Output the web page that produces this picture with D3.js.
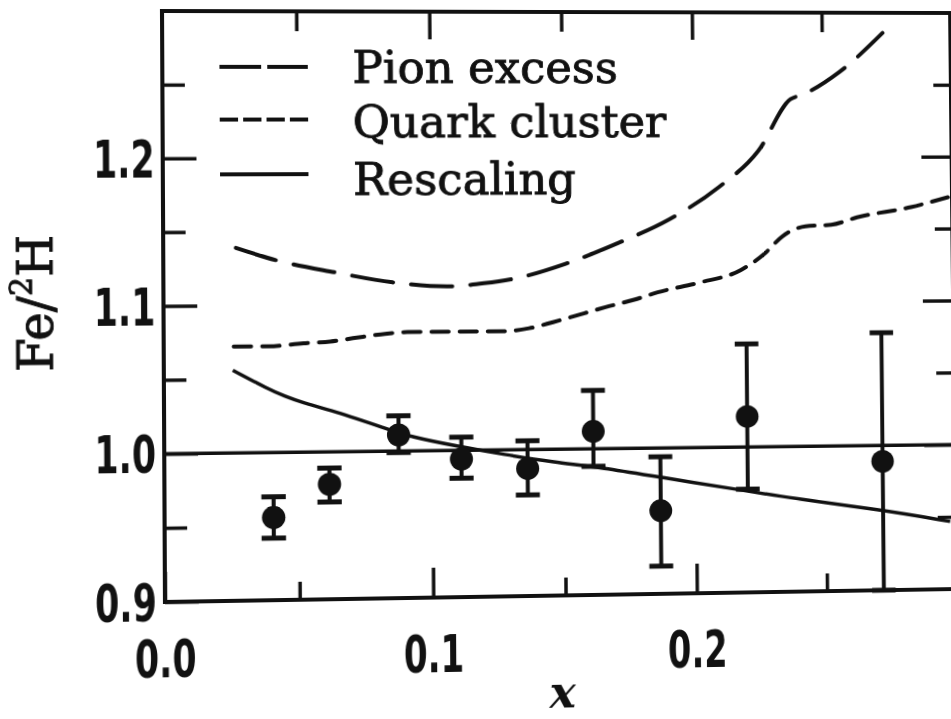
<!DOCTYPE html>
<html>
<head>
<meta charset="utf-8">
<script src="https://cdn.jsdelivr.net/npm/d3@7"></script>
<style>
  html, body { margin: 0; padding: 0; background: #fff; width: 951px; height: 719px; overflow: hidden; }
  #fig { position: absolute; left: 0; top: 0; transform-origin: 0 0; }
</style>
</head>
<body>
<svg id="fig" width="990" height="740"></svg>
<script>
// ---- axis ticks ----
const xMajorTicks = [0.0, 0.1, 0.2];
const xMajorLabels = ["0.0", "0.1", "0.2"];
const xMinorTicks = [0.05, 0.15, 0.25];
const yMajorTicks = [0.9, 1.0, 1.1, 1.2];
const yMajorLabels = ["0.9", "1.0", "1.1", "1.2"];
const yMinorTicks = [0.95, 1.05, 1.15, 1.25];

// ---- measured ratio Fe/2H with error bars ----
const dataX    = [0.0405, 0.0614, 0.0874, 0.111, 0.136, 0.161, 0.1865, 0.2199, 0.272];
const dataY    = [0.956, 0.978, 1.011, 0.994, 0.987, 1.012, 0.957, 1.021, 0.989];
const dataLow  = [0.942, 0.966, 0.999, 0.981, 0.969, 0.988, 0.919, 0.971, 0.900];
const dataHigh = [0.970, 0.989, 1.024, 1.009, 1.006, 1.040, 0.994, 1.071, 1.078];

// ---- model curves ----
const pionX = [0.027, 0.043, 0.064, 0.0855, 0.106, 0.120, 0.134, 0.151, 0.171, 0.1905, 0.2096, 0.225, 0.2377, 0.2422, 0.2568, 0.2736];
const pionY = [1.139, 1.130, 1.122, 1.115, 1.112, 1.114, 1.118, 1.127, 1.141, 1.157, 1.179, 1.204, 1.240, 1.243, 1.259, 1.286];

const quarkX = [0.026, 0.039, 0.052, 0.062, 0.072, 0.081, 0.091, 0.103, 0.115, 0.127, 0.137, 0.146, 0.158, 0.166, 0.177, 0.186, 0.202, 0.218, 0.227, 0.234, 0.243, 0.253, 0.263, 0.284, 0.299];
const quarkY = [1.072, 1.072, 1.074, 1.075, 1.0775, 1.0796, 1.081, 1.081, 1.081, 1.081, 1.083, 1.087, 1.093, 1.097, 1.102, 1.107, 1.1135, 1.122, 1.133, 1.145, 1.152, 1.153, 1.158, 1.165, 1.172];

const rescX = [0.0256, 0.0388, 0.045, 0.0514, 0.0628, 0.0828, 0.0918, 0.1093, 0.1271, 0.1461, 0.1642, 0.1877, 0.2167, 0.2357, 0.271, 0.298];
const rescY = [1.056, 1.043, 1.038, 1.0336, 1.028, 1.0154, 1.0096, 1.0029, 0.9968, 0.9911, 0.9871, 0.9795, 0.9707, 0.9646, 0.9556, 0.9468];

const referenceLevel = 1.0;
const legendLabels = ["Pion excess", "Quark cluster", "Rescaling"];

// ---- layout ----
const ink = "#111";
const plotLeft = 165, plotRight = 956, plotTop = 11, plotBottom = 602;
const x = d3.scaleLinear().domain([0, 0.3]).range([plotLeft, plotRight]);
const y = d3.scaleLinear().domain([0.9, 1.3]).range([plotBottom, plotTop]);

const svg = d3.select("#fig");
const g = svg.append("g");

const tickFont = "'Liberation Sans Narrow','Arial Narrow','DejaVu Sans Condensed','Liberation Sans',sans-serif";
const serif = "'DejaVu Serif','Liberation Serif',serif";

function styleAxis(sel, width) {
  sel.select(".domain").remove();
  sel.selectAll(".tick line").attr("stroke", ink).attr("stroke-width", width);
}

// bottom axis: inward ticks with labels
const bx = g.append("g").attr("transform", `translate(0,${plotBottom})`)
  .call(d3.axisBottom(x).tickValues(xMajorTicks).tickSizeInner(-30).tickSizeOuter(0)
    .tickPadding(38).tickFormat((d, i) => xMajorLabels[i]));
styleAxis(bx, 3.5);
bx.selectAll(".tick text")
  .attr("fill", ink).attr("font-family", tickFont).attr("font-weight", "bold")
  .attr("font-size", 52).attr("textLength", 60).attr("lengthAdjust", "spacingAndGlyphs");
const bxm = g.append("g").attr("transform", `translate(0,${plotBottom})`)
  .call(d3.axisBottom(x).tickValues(xMinorTicks).tickSizeInner(-18).tickSizeOuter(0).tickFormat(""));
styleAxis(bxm, 3.5);

// top axis: inward ticks, no labels
const tx = g.append("g").attr("transform", `translate(0,${plotTop})`)
  .call(d3.axisTop(x).tickValues([0.1, 0.2]).tickSizeInner(-28).tickSizeOuter(0).tickFormat(""));
styleAxis(tx, 3.5);
const txm = g.append("g").attr("transform", `translate(0,${plotTop})`)
  .call(d3.axisTop(x).tickValues(xMinorTicks).tickSizeInner(-20).tickSizeOuter(0).tickFormat(""));
styleAxis(txm, 3.5);

// left axis: inward ticks with labels
const ly = g.append("g").attr("transform", `translate(${plotLeft},0)`)
  .call(d3.axisLeft(y).tickValues(yMajorTicks).tickSizeInner(-33).tickSizeOuter(0)
    .tickPadding(8).tickFormat((d, i) => yMajorLabels[i]));
styleAxis(ly, 3.5);
ly.selectAll(".tick text")
  .attr("fill", ink).attr("font-family", tickFont).attr("font-weight", "bold")
  .attr("font-size", 52).attr("dy", "0.36em")
  .attr("textLength", 60).attr("lengthAdjust", "spacingAndGlyphs");
const lym = g.append("g").attr("transform", `translate(${plotLeft},0)`)
  .call(d3.axisLeft(y).tickValues(yMinorTicks).tickSizeInner(-22).tickSizeOuter(0).tickFormat(""));
styleAxis(lym, 3.5);

// right axis: inward ticks only
const ry = g.append("g").attr("transform", `translate(${plotRight},0)`)
  .call(d3.axisRight(y).tickValues([1.0, 1.1, 1.2]).tickSizeInner(-31).tickSizeOuter(0).tickFormat(""));
styleAxis(ry, 3.5);
const rym = g.append("g").attr("transform", `translate(${plotRight},0)`)
  .call(d3.axisRight(y).tickValues(yMinorTicks).tickSizeInner(-18).tickSizeOuter(0).tickFormat(""));
styleAxis(rym, 3.5);

// frame
g.append("rect")
  .attr("x", x(0)).attr("y", y(1.3))
  .attr("width", x(0.3) - x(0)).attr("height", y(0.9) - y(1.3))
  .attr("fill", "none").attr("stroke", ink).attr("stroke-width", 4);

// reference line at unity
g.append("line")
  .attr("x1", x(0)).attr("x2", x(0.3))
  .attr("y1", y(referenceLevel)).attr("y2", y(referenceLevel))
  .attr("stroke", ink).attr("stroke-width", 3.5);

// model curves
const zip = (xs, ys) => xs.map((v, i) => [v, ys[i]]);
const lineMono = d3.line().x(d => x(d[0])).y(d => y(d[1])).curve(d3.curveMonotoneX);
const lineSmooth = d3.line().x(d => x(d[0])).y(d => y(d[1])).curve(d3.curveBasis);

g.append("path").datum(zip(pionX, pionY)).attr("d", lineMono)
  .attr("fill", "none").attr("stroke", ink).attr("stroke-width", 4)
  .attr("stroke-dasharray", "41,18").attr("stroke-linecap", "round");
g.append("path").datum(zip(quarkX, quarkY)).attr("d", lineMono)
  .attr("fill", "none").attr("stroke", ink).attr("stroke-width", 4)
  .attr("stroke-dasharray", "17,11").attr("stroke-linecap", "round");
g.append("path").datum(zip(rescX, rescY)).attr("d", lineSmooth)
  .attr("fill", "none").attr("stroke", ink).attr("stroke-width", 3.5);

// data points with error bars
const pts = dataX.map((v, i) => ({ x: v, y: dataY[i], lo: dataLow[i], hi: dataHigh[i] }));
const capW = 12;
const eb = g.append("g").selectAll("g").data(pts).join("g");
eb.append("line")
  .attr("x1", d => x(d.x)).attr("x2", d => x(d.x))
  .attr("y1", d => y(d.lo)).attr("y2", d => y(d.hi))
  .attr("stroke", ink).attr("stroke-width", 4);
eb.append("line")
  .attr("x1", d => x(d.x) - capW).attr("x2", d => x(d.x) + capW)
  .attr("y1", d => y(d.hi)).attr("y2", d => y(d.hi))
  .attr("stroke", ink).attr("stroke-width", 5);
eb.append("line")
  .attr("x1", d => x(d.x) - capW).attr("x2", d => x(d.x) + capW)
  .attr("y1", d => y(d.lo)).attr("y2", d => y(d.lo))
  .attr("stroke", ink).attr("stroke-width", 5);
eb.append("circle")
  .attr("cx", d => x(d.x)).attr("cy", d => y(d.y)).attr("r", 11.5)
  .attr("fill", ink);

// legend
const legendRows = [
  { label: legendLabels[0], dash: "41,6", lineY: 67, textY: 83 },
  { label: legendLabels[1], dash: "18,5", lineY: 120, textY: 138 },
  { label: legendLabels[2], dash: null, lineY: 175, textY: 196 }
];
const lg = g.append("g");
legendRows.forEach(r => {
  lg.append("line")
    .attr("x1", 221).attr("x2", 308).attr("y1", r.lineY).attr("y2", r.lineY)
    .attr("stroke", ink).attr("stroke-width", 4)
    .attr("stroke-dasharray", r.dash);
  lg.append("text")
    .attr("x", 352).attr("y", r.textY)
    .attr("font-family", serif).attr("font-size", 45).attr("fill", ink)
    .attr("stroke", ink).attr("stroke-width", 0.9)
    .text(r.label);
});

// axis titles
const yt = g.append("text")
  .attr("transform", "translate(57,303) rotate(-90)")
  .attr("text-anchor", "middle")
  .attr("font-family", serif).attr("font-size", 48).attr("fill", ink)
  .attr("stroke", ink).attr("stroke-width", 0.9);
yt.append("tspan").text("Fe/");
yt.append("tspan").attr("font-size", 30).attr("dy", -20).text("2");
yt.append("tspan").attr("dy", 20).text("H");

g.append("text")
  .attr("x", 557).attr("y", 715).attr("text-anchor", "middle")
  .attr("font-family", serif).attr("font-style", "italic").attr("font-weight", "bold")
  .attr("font-size", 44).attr("fill", ink)
  .text("x");

// Slight projective tilt of the whole figure, solved from its four frame corners.
function homography(src, dst) {
  const A = [], b = [];
  for (let i = 0; i < 4; i++) {
    const [sx, sy] = src[i], [u, v] = dst[i];
    A.push([sx, sy, 1, 0, 0, 0, -sx * u, -sy * u]); b.push(u);
    A.push([0, 0, 0, sx, sy, 1, -sx * v, -sy * v]); b.push(v);
  }
  const n = 8;
  for (let c = 0; c < n; c++) {
    let p = c;
    for (let r = c + 1; r < n; r++) if (Math.abs(A[r][c]) > Math.abs(A[p][c])) p = r;
    [A[c], A[p]] = [A[p], A[c]]; [b[c], b[p]] = [b[p], b[c]];
    for (let r = c + 1; r < n; r++) {
      const f = A[r][c] / A[c][c];
      for (let k = c; k < n; k++) A[r][k] -= f * A[c][k];
      b[r] -= f * b[c];
    }
  }
  const h = new Array(n).fill(0);
  for (let r = n - 1; r >= 0; r--) {
    let s = b[r];
    for (let k = r + 1; k < n; k++) s -= A[r][k] * h[k];
    h[r] = s / A[r][r];
  }
  return h;
}
const hm = homography(
  [[plotLeft, plotTop], [plotLeft, plotBottom], [plotRight, plotTop], [plotRight, plotBottom]],
  [[162, 11], [165, 602], [950, 13], [956, 589]]
);
document.getElementById("fig").style.transform =
  `matrix3d(${hm[0]},${hm[3]},0,${hm[6]},${hm[1]},${hm[4]},0,${hm[7]},0,0,1,0,${hm[2]},${hm[5]},0,1)`;
</script>
</body>
</html>
